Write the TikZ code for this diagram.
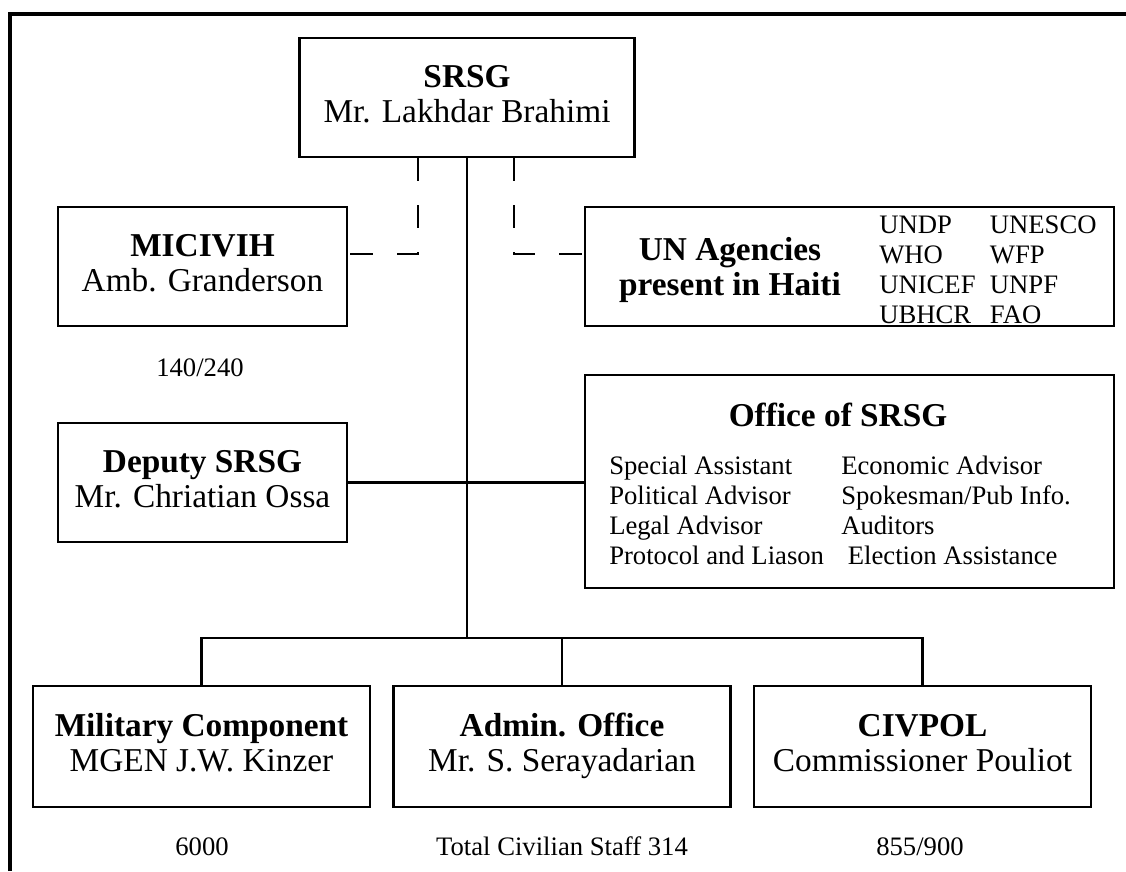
\documentclass[tikz,border=0pt]{standalone}
\usepackage{fontspec}
\setmainfont{Liberation Serif}
\usepackage{tikz}
\usetikzlibrary{calc}

\begin{document}
\begin{tikzpicture}[x=0.75pt,y=0.75pt,yscale=-1,xscale=1,
  box/.style={draw, line width=2pt, inner sep=0pt, align=center, font=\fontsize{25}{26.25}\selectfont},
  title/.style={inner sep=0pt, align=center, font=\fontsize{25}{26.25}\selectfont\bfseries},
  small/.style={inner sep=0pt, font=\fontsize{20}{22.5}\selectfont},
  link/.style={line width=1.8pt},
  dashlink/.style={line width=1.8pt, dash pattern=on 17.25pt off 18pt}]
\useasboundingbox (0,0) rectangle (1126,871);

%Outer frame
\draw[line width=2.3pt] (10,871) -- (10,14) -- (1126,14);

%Shape: Rectangle [SRSG]
\node[box, minimum width=251.25pt, minimum height=89.25pt] (srsg) at (467,97.5) {\strut\textbf{SRSG}\\\strut Mr. Lakhdar Brahimi};
%Shape: Rectangle [MICIVIH]
\node[box, minimum width=216.75pt, minimum height=89.25pt] (micivih) at (202.5,266.5) {\strut\textbf{MICIVIH}\\\strut Amb. Granderson};
%Shape: Rectangle [UN agencies]
\node[box, minimum width=396.75pt, minimum height=89.25pt] (unag) at (849.5,266.5) {};
%Shape: Rectangle [Deputy]
\node[box, minimum width=216.75pt, minimum height=89.25pt] (deputy) at (202.5,482.5) {\strut\textbf{Deputy SRSG}\\\strut Mr. Chriatian Ossa};
%Shape: Rectangle [Office]
\node[box, minimum width=396.75pt, minimum height=159.75pt] (office) at (849.5,481.5) {};
%Shape: Rectangle [bottom row]
\node[box, minimum width=252.75pt, minimum height=90.75pt] (military) at (201.5,746.5) {\strut\textbf{Military Component}\\\strut MGEN J.W. Kinzer};
\node[box, minimum width=252.75pt, minimum height=90.75pt] (admin) at (562,746.5) {\strut\textbf{Admin. Office}\\\strut Mr. S. Serayadarian};
\node[box, minimum width=252.75pt, minimum height=90.75pt] (civpol) at (922.5,746.5) {\strut\textbf{CIVPOL}\\\strut Commissioner Pouliot};

% Text Node
\node[title] (untitle) at (730,270) {UN Agencies\\present in Haiti};
% Text Node
\node[small, anchor=north west] (unlist) at (879,212) {\begin{tabular}{@{}p{83pt}@{}l@{}}
UNDP & UNESCO\\
WHO & WFP\\
UNICEF & UNPF\\
UBHCR & FAO
\end{tabular}};
% Text Node
\node[title] (officetitle) at (838,415) {Office of SRSG};
% Text Node
\node[small, anchor=north west] (officelist) at (609,453) {\begin{tabular}{@{}p{174pt}@{}l@{}}
Special Assistant & Economic Advisor\\
Political Advisor & Spokesman/Pub Info.\\
Legal Advisor & Auditors\\
Protocol and Liason & \ Election Assistance
\end{tabular}};
% Text Node
\node[small, anchor=base] (micivihstaff) at (200,376) {140/240};
\node[small, anchor=base] (milstaff) at (202,855) {6000};
\node[small, anchor=base] (adminstaff) at (562,855) {Total Civilian Staff 314};
\node[small, anchor=base] (civpolstaff) at (920,855) {855/900};

%Straight Lines
\coordinate (bus) at (467,638);
\draw[link] (srsg.south) -- (srsg.south |- bus);
\draw[link] (military.north) |- (bus) -| (civpol.north);
\draw[link] (admin.north) -- (admin.north |- bus);
\draw[link] (deputy.east) -- (deputy.east -| office.west);
%Dashed Lines
\draw[dashlink] ($(srsg.south)+(-49,0)$) |- ($(micivih.east)+(0,-12.5)$);
\draw[dashlink] ($(srsg.south)+(47,0)$) |- ($(unag.west)+(0,-12.5)$);

\end{tikzpicture}
\end{document}
